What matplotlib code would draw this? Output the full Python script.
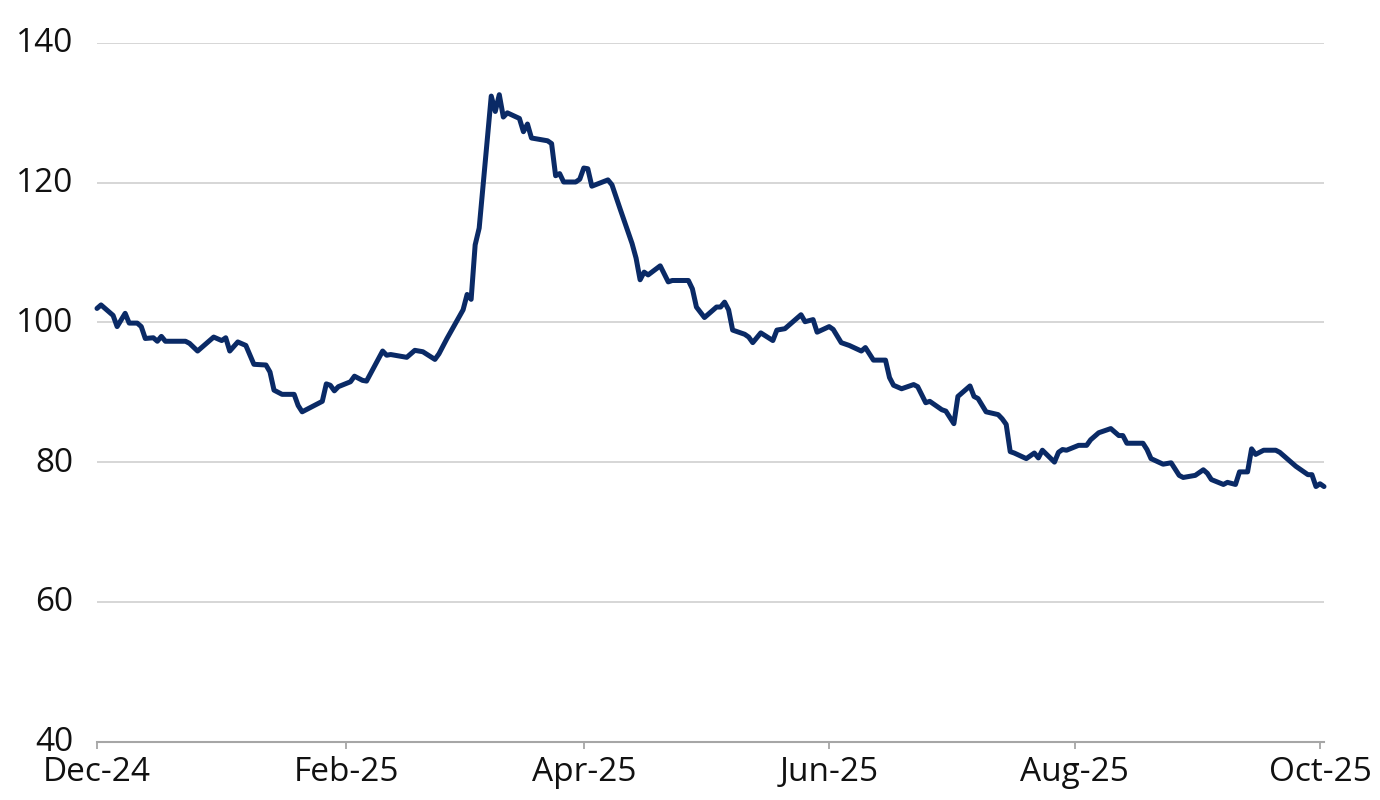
import matplotlib
matplotlib.use("Agg")
import matplotlib.pyplot as plt
import matplotlib.transforms as mtransforms
import pandas as pd

plt.rcParams['font.family'] = ['Open Sans', 'DejaVu Sans']

# ---- data ----
dates_dec = ['2024-12-01', '2024-12-02', '2024-12-04', '2024-12-05', '2024-12-06', '2024-12-08',
             '2024-12-09', '2024-12-11', '2024-12-12', '2024-12-13', '2024-12-15', '2024-12-16',
             '2024-12-17', '2024-12-18', '2024-12-23', '2024-12-24', '2024-12-26', '2024-12-30']
vals_dec = [102.0, 102.5, 101.5, 101.0, 99.4, 101.3, 99.9, 99.9, 99.4, 97.7, 97.8, 97.3,
            98.0, 97.3, 97.3, 97.0, 95.9, 97.9]

dates_jan = ['2025-01-01', '2025-01-02', '2025-01-03', '2025-01-05', '2025-01-07', '2025-01-09',
             '2025-01-12', '2025-01-13', '2025-01-14', '2025-01-16', '2025-01-19', '2025-01-20',
             '2025-01-21', '2025-01-26', '2025-01-27', '2025-01-28', '2025-01-29', '2025-01-30']
vals_jan = [97.4, 97.8, 95.9, 97.2, 96.7, 94.0, 93.9, 92.9, 90.3, 89.7, 89.7, 88.1,
            87.2, 88.7, 91.2, 91.0, 90.2, 90.8]

dates_feb = ['2025-02-02', '2025-02-03', '2025-02-05', '2025-02-06', '2025-02-10', '2025-02-11',
             '2025-02-12', '2025-02-16', '2025-02-18', '2025-02-20', '2025-02-23', '2025-02-24',
             '2025-02-26']
vals_feb = [91.5, 92.3, 91.7, 91.6, 95.9, 95.3, 95.4, 95.0, 96.0, 95.8, 94.7, 95.5, 97.7]

dates_mar = ['2025-03-02', '2025-03-03', '2025-03-04', '2025-03-05', '2025-03-06', '2025-03-09',
             '2025-03-10', '2025-03-11', '2025-03-12', '2025-03-13', '2025-03-16', '2025-03-17',
             '2025-03-18', '2025-03-19', '2025-03-23', '2025-03-24', '2025-03-25', '2025-03-26',
             '2025-03-27', '2025-03-30', '2025-03-31']
vals_mar = [101.8, 104.0, 103.3, 111.1, 113.5, 132.4, 130.2, 132.6, 129.4, 130.0, 129.2, 127.3,
            128.4, 126.4, 126.0, 125.6, 121.0, 121.3, 120.1, 120.1, 120.5]

dates_apr = ['2025-04-01', '2025-04-02', '2025-04-03', '2025-04-07', '2025-04-08', '2025-04-10',
             '2025-04-13', '2025-04-14', '2025-04-15', '2025-04-16', '2025-04-17', '2025-04-20',
             '2025-04-22', '2025-04-23', '2025-04-27', '2025-04-28', '2025-04-29']
vals_apr = [122.1, 122.0, 119.5, 120.4, 119.7, 116.3, 111.3, 109.2, 106.1, 107.2, 106.8, 108.1,
            105.8, 106.0, 106.0, 104.8, 102.2]

dates_may = ['2025-05-01', '2025-05-04', '2025-05-05', '2025-05-06', '2025-05-07', '2025-05-08',
             '2025-05-11', '2025-05-12', '2025-05-13', '2025-05-15', '2025-05-18', '2025-05-19',
             '2025-05-21', '2025-05-25', '2025-05-26', '2025-05-28', '2025-05-29']
vals_may = [100.7, 102.2, 102.2, 102.9, 101.8, 98.9, 98.3, 97.9, 97.1, 98.5, 97.4, 98.9,
            99.1, 101.1, 100.1, 100.4, 98.6]

dates_jun = ['2025-06-01', '2025-06-02', '2025-06-04', '2025-06-06', '2025-06-09', '2025-06-10',
             '2025-06-12', '2025-06-15', '2025-06-16', '2025-06-17', '2025-06-19', '2025-06-22',
             '2025-06-23', '2025-06-25', '2025-06-26', '2025-06-29', '2025-06-30']
vals_jun = [99.4, 99.0, 97.1, 96.7, 95.9, 96.4, 94.6, 94.6, 92.1, 91.0, 90.5, 91.1,
            90.8, 88.5, 88.7, 87.5, 87.3]

dates_jul = ['2025-07-02', '2025-07-03', '2025-07-06', '2025-07-07', '2025-07-08', '2025-07-10',
             '2025-07-13', '2025-07-14', '2025-07-15', '2025-07-16', '2025-07-17', '2025-07-20',
             '2025-07-22', '2025-07-23', '2025-07-24', '2025-07-27', '2025-07-28', '2025-07-29',
             '2025-07-30']
vals_jul = [85.5, 89.4, 90.9, 89.4, 89.1, 87.2, 86.8, 86.2, 85.4, 81.5, 81.3, 80.5,
            81.3, 80.6, 81.7, 80.0, 81.4, 81.8, 81.7]

dates_aug = ['2025-08-02', '2025-08-04', '2025-08-05', '2025-08-07', '2025-08-10', '2025-08-12',
             '2025-08-13', '2025-08-14', '2025-08-18', '2025-08-19', '2025-08-20', '2025-08-23',
             '2025-08-25', '2025-08-27', '2025-08-28', '2025-08-31']
vals_aug = [82.4, 82.4, 83.2, 84.2, 84.8, 83.8, 83.8, 82.7, 82.7, 81.8, 80.5, 79.7,
            79.9, 78.1, 77.8, 78.1]

dates_sep = ['2025-09-02', '2025-09-03', '2025-09-04', '2025-09-07', '2025-09-08', '2025-09-10',
             '2025-09-11', '2025-09-13', '2025-09-14', '2025-09-15', '2025-09-17', '2025-09-20',
             '2025-09-21', '2025-09-24', '2025-09-25', '2025-09-28', '2025-09-29', '2025-09-30']
vals_sep = [78.9, 78.4, 77.5, 76.8, 77.1, 76.8, 78.6, 78.6, 81.9, 81.1, 81.7, 81.7,
            81.4, 79.9, 79.4, 78.2, 78.2, 76.5]

dates_oct = ['2025-10-01', '2025-10-02']
vals_oct = [76.9, 76.5]

y_ticks = [40, 60, 80, 100, 120, 140]
x_tick_dates = ['2024-12-01', '2025-02-01', '2025-04-01', '2025-06-01', '2025-08-01', '2025-10-01']
x_tick_labels = ['Dec-24', 'Feb-25', 'Apr-25', 'Jun-25', 'Aug-25', 'Oct-25']

dates = pd.to_datetime(dates_dec + dates_jan + dates_feb + dates_mar + dates_apr + dates_may +
                       dates_jun + dates_jul + dates_aug + dates_sep + dates_oct)
values = (vals_dec + vals_jan + vals_feb + vals_mar + vals_apr + vals_may +
          vals_jun + vals_jul + vals_aug + vals_sep + vals_oct)

# ---- figure ----
fig = plt.figure(figsize=(13.8, 8.0), dpi=100)
ax = fig.add_axes([97 / 1380, 58.5 / 800, (1324 - 97) / 1380, (741.5 - 43) / 800])

for yv in y_ticks[1:]:
    ax.axhline(yv, color='#d0d0d0', lw=1.2, zorder=1)

ax.plot(dates, values, color='#0a2a66', lw=3.6, solid_joinstyle='round',
        solid_capstyle='round', zorder=3, clip_on=False)

ax.set_ylim(40, 140)
ax.set_xlim(pd.Timestamp('2024-12-01'), pd.Timestamp('2025-10-02'))
ax.set_yticks(y_ticks)
ax.set_xticks(pd.to_datetime(x_tick_dates))
ax.set_xticklabels(x_tick_labels)

for s in ['top', 'right', 'left']:
    ax.spines[s].set_visible(False)
ax.spines['bottom'].set_color('#a6a6a6')
ax.spines['bottom'].set_linewidth(1.5)
ax.spines['bottom'].set_zorder(2)

ax.tick_params(axis='y', length=0, pad=17, labelsize=24, labelcolor='#111111')
ax.tick_params(axis='x', length=5, width=1.3, color='#a6a6a6', direction='out',
               pad=5.5, labelsize=24, labelcolor='#111111')

# nudge y labels slightly upward (as in the reference)
shift_up = mtransforms.ScaledTranslation(0, 2.2 / 72, fig.dpi_scale_trans)
for lab in ax.get_yticklabels():
    lab.set_transform(lab.get_transform() + shift_up)

fig.savefig('out.png', dpi=100, facecolor='white')
